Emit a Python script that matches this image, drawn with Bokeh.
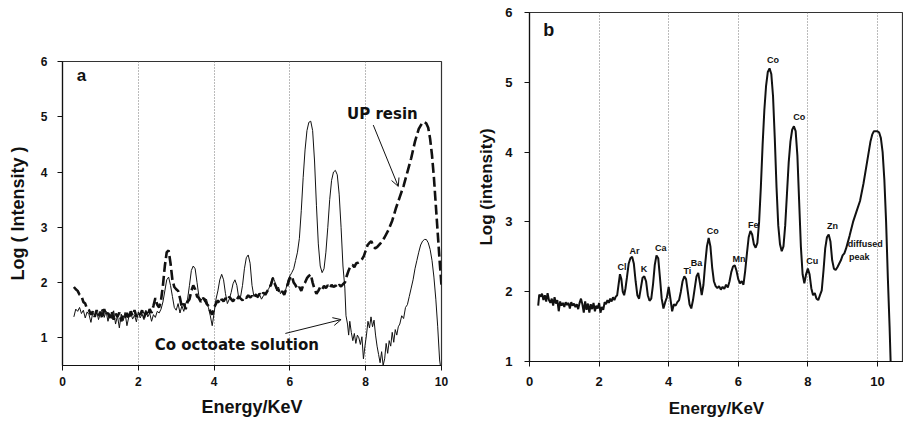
from bokeh.plotting import figure
from bokeh.layouts import row, column
from bokeh.models import FixedTicker, Label, Arrow, OpenHead, Range1d, ColumnDataSource
from bokeh.embed import file_html
from bokeh.resources import INLINE

# ---------------- data ----------------
# Panel a: Co octoate solution (thin solid line)
CO_OCT = [
    (0.30, 1.38), (0.35, 1.52), (0.40, 1.48), (0.45, 1.55), (0.50, 1.44), (0.55, 1.50),
    (0.60, 1.36), (0.65, 1.47), (0.70, 1.42), (0.75, 1.28), (0.80, 1.46), (0.85, 1.39),
    (0.90, 1.50), (0.95, 1.33), (1.00, 1.45), (1.05, 1.52), (1.10, 1.37), (1.15, 1.48),
    (1.20, 1.30), (1.25, 1.44), (1.30, 1.35), (1.35, 1.49), (1.40, 1.25), (1.45, 1.40),
    (1.50, 1.18), (1.55, 1.43), (1.60, 1.31), (1.65, 1.46), (1.70, 1.22), (1.75, 1.38),
    (1.80, 1.45), (1.85, 1.34), (1.90, 1.41), (1.95, 1.29), (2.00, 1.47), (2.05, 1.36),
    (2.10, 1.43), (2.15, 1.33), (2.20, 1.50), (2.25, 1.38), (2.30, 1.45), (2.35, 1.30),
    (2.40, 1.42), (2.45, 1.37), (2.50, 1.48), (2.55, 1.45), (2.60, 1.52), (2.65, 1.65),
    (2.70, 1.85), (2.75, 2.05), (2.80, 2.10), (2.85, 1.95), (2.90, 1.75), (2.95, 1.55),
    (3.00, 1.50), (3.05, 1.62), (3.10, 1.45), (3.15, 1.58), (3.20, 1.48), (3.25, 1.62),
    (3.30, 1.70), (3.35, 1.95), (3.40, 2.22), (3.45, 2.30), (3.50, 2.25), (3.55, 2.00),
    (3.60, 1.75), (3.65, 1.68), (3.70, 1.72), (3.75, 1.65), (3.80, 1.70), (3.85, 1.55),
    (3.90, 1.40), (3.95, 1.22), (4.00, 1.45), (4.05, 1.70), (4.10, 1.85), (4.15, 2.05),
    (4.20, 2.15), (4.25, 2.05), (4.30, 1.80), (4.35, 1.62), (4.40, 1.70), (4.45, 1.82),
    (4.50, 1.98), (4.55, 2.05), (4.60, 1.95), (4.65, 1.72), (4.70, 1.75), (4.75, 1.95),
    (4.80, 2.25), (4.85, 2.45), (4.90, 2.50), (4.95, 2.35), (5.00, 1.95), (5.05, 1.75),
    (5.10, 1.80), (5.15, 1.72), (5.20, 1.78), (5.25, 1.70), (5.30, 1.76), (5.35, 1.80),
    (5.40, 1.85), (5.45, 1.90), (5.50, 2.00), (5.55, 2.10), (5.60, 2.02), (5.65, 1.85),
    (5.70, 1.92), (5.75, 1.80), (5.80, 1.85), (5.85, 1.78), (5.90, 1.90), (5.95, 2.05),
    (6.00, 2.12), (6.05, 2.18), (6.10, 2.25), (6.15, 2.40), (6.20, 2.55), (6.25, 2.80),
    (6.30, 3.30), (6.35, 3.90), (6.40, 4.40), (6.45, 4.75), (6.50, 4.90), (6.55, 4.92),
    (6.60, 4.75), (6.65, 4.20), (6.70, 3.40), (6.75, 2.70), (6.80, 2.30), (6.85, 2.18),
    (6.90, 2.25), (6.95, 2.55), (7.00, 3.00), (7.05, 3.50), (7.10, 3.85), (7.15, 4.00),
    (7.20, 4.03), (7.25, 3.95), (7.30, 3.60), (7.35, 3.00), (7.40, 2.30), (7.45, 1.90),
    (7.48, 1.40), (7.52, 1.25), (7.55, 1.05), (7.58, 1.30), (7.62, 1.10), (7.66, 0.95),
    (7.70, 1.08), (7.74, 0.90), (7.78, 1.05), (7.82, 1.00), (7.86, 0.88), (7.90, 1.02),
    (7.94, 0.62), (7.98, 0.85), (8.02, 1.05), (8.06, 1.30), (8.10, 1.18), (8.14, 1.38),
    (8.18, 1.20), (8.22, 1.32), (8.26, 1.05), (8.30, 0.85), (8.34, 0.70), (8.38, 0.55),
    (8.42, 0.75), (8.46, 0.50), (8.50, 0.62), (8.54, 0.90), (8.58, 0.72), (8.62, 0.95),
    (8.66, 0.85), (8.70, 1.10), (8.74, 0.92), (8.78, 1.15), (8.82, 1.05), (8.86, 1.20),
    (8.90, 1.25), (8.95, 1.40), (9.00, 1.35), (9.05, 1.55), (9.10, 1.60), (9.15, 1.75),
    (9.20, 1.90), (9.25, 2.05), (9.30, 2.25), (9.35, 2.40), (9.40, 2.55), (9.45, 2.68),
    (9.50, 2.75), (9.55, 2.78), (9.60, 2.78), (9.65, 2.72), (9.70, 2.60), (9.75, 2.40),
    (9.80, 2.10), (9.85, 1.70), (9.90, 1.20), (9.95, 0.60), (9.97, 0.50),
]

# Panel a: UP resin (thick dashed line)
UP_RESIN = [
    (0.30, 1.92), (0.35, 1.88), (0.40, 1.85), (0.45, 1.78), (0.50, 1.76), (0.55, 1.65),
    (0.60, 1.62), (0.65, 1.52), (0.70, 1.50), (0.75, 1.42), (0.80, 1.48), (0.85, 1.38),
    (0.90, 1.50), (0.95, 1.40), (1.00, 1.47), (1.05, 1.35), (1.10, 1.52), (1.15, 1.42),
    (1.20, 1.45), (1.25, 1.36), (1.30, 1.48), (1.35, 1.33), (1.40, 1.44), (1.45, 1.38),
    (1.50, 1.46), (1.55, 1.30), (1.60, 1.42), (1.65, 1.37), (1.70, 1.45), (1.75, 1.34),
    (1.80, 1.48), (1.85, 1.40), (1.90, 1.50), (1.95, 1.38), (2.00, 1.45), (2.05, 1.42),
    (2.10, 1.50), (2.15, 1.36), (2.20, 1.47), (2.25, 1.40), (2.30, 1.52), (2.35, 1.45),
    (2.40, 1.58), (2.45, 1.72), (2.50, 1.60), (2.55, 1.55), (2.60, 1.68), (2.65, 1.95),
    (2.70, 2.30), (2.75, 2.55), (2.80, 2.58), (2.85, 2.35), (2.90, 2.05), (2.95, 1.92),
    (3.00, 1.88), (3.05, 1.85), (3.10, 1.72), (3.15, 1.55), (3.20, 1.62), (3.25, 1.52),
    (3.30, 1.65), (3.35, 1.70), (3.40, 1.85), (3.45, 1.95), (3.50, 1.88), (3.55, 1.75),
    (3.60, 1.72), (3.65, 1.65), (3.70, 1.72), (3.75, 1.70), (3.80, 1.62), (3.85, 1.58),
    (3.90, 1.48), (3.95, 1.42), (4.00, 1.55), (4.05, 1.62), (4.10, 1.68), (4.15, 1.62),
    (4.20, 1.70), (4.25, 1.66), (4.30, 1.72), (4.35, 1.68), (4.40, 1.74), (4.45, 1.70),
    (4.50, 1.66), (4.55, 1.72), (4.60, 1.69), (4.65, 1.75), (4.70, 1.71), (4.75, 1.68),
    (4.80, 1.74), (4.85, 1.72), (4.90, 1.77), (4.95, 1.73), (5.00, 1.76), (5.05, 1.72),
    (5.10, 1.78), (5.15, 1.74), (5.20, 1.80), (5.25, 1.76), (5.30, 1.82), (5.35, 1.78),
    (5.40, 1.84), (5.45, 1.90), (5.50, 1.96), (5.55, 2.08), (5.60, 1.98), (5.65, 1.90),
    (5.70, 1.86), (5.75, 1.80), (5.80, 1.84), (5.85, 1.78), (5.90, 1.88), (5.95, 1.98),
    (6.00, 2.08), (6.05, 2.12), (6.10, 2.00), (6.15, 1.95), (6.20, 1.88), (6.25, 1.92),
    (6.30, 1.85), (6.35, 1.95), (6.40, 2.00), (6.45, 2.08), (6.50, 2.12), (6.55, 2.15),
    (6.60, 2.00), (6.65, 1.88), (6.70, 1.80), (6.75, 1.85), (6.80, 1.92), (6.85, 1.88),
    (6.90, 1.94), (6.95, 1.90), (7.00, 1.95), (7.05, 1.90), (7.10, 1.96), (7.15, 1.92),
    (7.20, 1.95), (7.25, 1.91), (7.30, 1.96), (7.35, 1.93), (7.40, 1.97), (7.45, 2.00),
    (7.50, 2.12), (7.55, 2.22), (7.60, 2.30), (7.65, 2.32), (7.70, 2.28), (7.75, 2.35),
    (7.80, 2.36), (7.85, 2.38), (7.90, 2.42), (7.95, 2.48), (8.00, 2.58), (8.05, 2.68),
    (8.10, 2.72), (8.15, 2.75), (8.20, 2.66), (8.25, 2.62), (8.30, 2.64), (8.40, 2.72),
    (8.50, 2.82), (8.60, 2.95), (8.70, 3.12), (8.80, 3.35), (8.90, 3.55), (9.00, 3.75),
    (9.10, 4.00), (9.20, 4.25), (9.30, 4.55), (9.40, 4.78), (9.50, 4.90), (9.55, 4.90),
    (9.60, 4.88), (9.65, 4.80), (9.70, 4.60), (9.75, 4.30), (9.80, 3.90), (9.85, 3.40),
    (9.90, 2.90), (9.95, 2.40), (10.00, 1.95),
]

# Panel b: spectrum
SPEC_B = [
    (0.25, 1.80), (0.28, 1.96), (0.32, 1.93), (0.36, 1.97), (0.40, 1.88), (0.44, 1.95),
    (0.48, 1.86), (0.52, 1.98), (0.56, 1.88), (0.60, 1.84), (0.64, 1.90), (0.68, 1.80),
    (0.72, 1.92), (0.76, 1.83), (0.80, 1.88), (0.84, 1.72), (0.88, 1.86), (0.92, 1.80),
    (0.96, 1.84), (1.00, 1.78), (1.04, 1.85), (1.08, 1.81), (1.12, 1.84), (1.16, 1.76),
    (1.20, 1.85), (1.24, 1.80), (1.28, 1.83), (1.32, 1.78), (1.36, 1.82), (1.40, 1.75),
    (1.44, 1.84), (1.48, 1.90), (1.52, 1.82), (1.56, 1.70), (1.60, 1.86), (1.64, 1.74),
    (1.68, 1.83), (1.72, 1.70), (1.76, 1.82), (1.80, 1.75), (1.84, 1.84), (1.88, 1.72),
    (1.92, 1.80), (1.96, 1.76), (2.00, 1.84), (2.04, 1.70), (2.08, 1.78), (2.12, 1.74),
    (2.16, 1.85), (2.20, 1.82), (2.24, 1.88), (2.28, 1.84), (2.32, 1.90), (2.36, 1.86),
    (2.40, 1.92), (2.44, 1.88), (2.48, 1.93), (2.52, 1.95), (2.56, 2.10), (2.60, 2.25),
    (2.64, 2.18), (2.68, 2.00), (2.72, 1.95), (2.76, 2.05), (2.80, 2.20), (2.85, 2.40),
    (2.90, 2.48), (2.95, 2.50), (3.00, 2.40), (3.05, 2.15), (3.10, 1.95), (3.15, 1.90),
    (3.20, 2.05), (3.25, 2.20), (3.30, 2.22), (3.35, 2.15), (3.40, 1.95), (3.45, 1.87),
    (3.50, 1.90), (3.55, 2.10), (3.60, 2.38), (3.65, 2.52), (3.70, 2.48), (3.75, 2.20),
    (3.80, 1.90), (3.85, 1.76), (3.90, 1.85), (3.95, 1.92), (4.00, 2.07), (4.05, 1.90),
    (4.10, 1.72), (4.15, 1.82), (4.20, 1.80), (4.25, 1.85), (4.30, 1.88), (4.35, 2.00),
    (4.40, 2.15), (4.45, 2.22), (4.50, 2.18), (4.55, 2.00), (4.60, 1.82), (4.65, 1.76),
    (4.70, 1.88), (4.75, 2.05), (4.80, 2.22), (4.85, 2.27), (4.90, 2.12), (4.95, 1.95),
    (5.00, 2.10), (5.05, 2.40), (5.10, 2.65), (5.15, 2.77), (5.20, 2.65), (5.25, 2.35),
    (5.30, 2.15), (5.35, 2.08), (5.40, 2.05), (5.45, 2.08), (5.50, 2.03), (5.55, 2.07),
    (5.60, 2.04), (5.65, 2.10), (5.70, 2.06), (5.75, 2.15), (5.80, 2.28), (5.85, 2.36),
    (5.90, 2.38), (5.95, 2.30), (6.00, 2.18), (6.05, 2.12), (6.10, 2.15), (6.15, 2.10),
    (6.20, 2.30), (6.25, 2.55), (6.30, 2.78), (6.35, 2.87), (6.40, 2.82), (6.45, 2.68),
    (6.50, 2.63), (6.55, 2.70), (6.60, 3.00), (6.65, 3.50), (6.70, 4.10), (6.75, 4.60),
    (6.80, 4.95), (6.85, 5.15), (6.90, 5.20), (6.95, 5.12), (7.00, 4.80), (7.05, 4.20),
    (7.10, 3.50), (7.15, 2.95), (7.20, 2.68), (7.25, 2.58), (7.30, 2.65), (7.35, 2.95),
    (7.40, 3.40), (7.45, 3.85), (7.50, 4.15), (7.55, 4.32), (7.60, 4.37), (7.65, 4.30),
    (7.70, 3.95), (7.75, 3.30), (7.80, 2.65), (7.85, 2.25), (7.90, 2.12), (7.95, 2.25),
    (8.00, 2.33), (8.05, 2.25), (8.10, 2.05), (8.15, 1.95), (8.20, 1.98), (8.25, 1.90),
    (8.30, 1.88), (8.35, 1.95), (8.40, 2.02), (8.45, 2.30), (8.50, 2.62), (8.55, 2.78),
    (8.60, 2.82), (8.65, 2.72), (8.70, 2.45), (8.75, 2.33), (8.80, 2.31), (8.85, 2.35),
    (8.90, 2.40), (8.95, 2.45), (9.00, 2.52), (9.05, 2.55), (9.10, 2.62), (9.20, 2.80),
    (9.30, 3.00), (9.40, 3.15), (9.50, 3.30), (9.60, 3.55), (9.70, 3.85), (9.80, 4.15),
    (9.85, 4.25), (9.90, 4.30), (10.00, 4.30), (10.05, 4.28), (10.10, 4.20), (10.15, 4.00),
    (10.20, 3.60), (10.25, 3.00), (10.30, 2.20), (10.35, 1.50), (10.38, 1.00),
]

# Peak labels in panel b
PEAK_TEXT = ["Cl", "Ar", "K", "Ca", "Ti", "Ba", "Co", "Mn", "Fe", "Co", "Co", "Cu", "Zn", "diffused", "peak"]
PEAK_X = [2.66, 3.02, 3.29, 3.77, 4.54, 4.80, 5.27, 6.02, 6.43, 7.00, 7.75, 8.13, 8.71, 9.65, 9.48]
PEAK_Y = [2.35, 2.58, 2.32, 2.62, 2.30, 2.41, 2.87, 2.47, 2.96, 5.32, 4.50, 2.44, 2.94, 2.69, 2.49]

X_TICKS = [0, 2, 4, 6, 8, 10]
Y_TICKS = [1, 2, 3, 4, 5, 6]
X_LABEL = "Energy/KeV"
Y_LABEL_A = "Log ( Intensity )"
Y_LABEL_B = "Log (intensity)"

SANS = "Liberation Sans"
BOLDW = "DejaVu Sans"
INK = "#111111"


def style(p, label_size, tick_size, xstand, ystand):
    p.outline_line_color = "#333333"
    p.outline_line_width = 1.2
    p.background_fill_color = "white"
    p.border_fill_color = "white"
    p.ygrid.visible = False
    p.xgrid.ticker = FixedTicker(ticks=X_TICKS)
    p.xgrid.grid_line_color = "#777777"
    p.xgrid.grid_line_dash = "1 2"
    p.xgrid.grid_line_width = 1
    p.xaxis.ticker = FixedTicker(ticks=X_TICKS)
    p.yaxis.ticker = FixedTicker(ticks=Y_TICKS)
    for ax in (p.xaxis[0], p.yaxis[0]):
        ax.axis_line_color = INK
        ax.axis_line_width = 1.2
        ax.major_tick_line_color = INK
        ax.major_tick_out = 5
        ax.major_tick_in = 0
        ax.minor_tick_line_color = None
        ax.major_label_text_font = SANS
        ax.major_label_text_font_style = "bold"
        ax.major_label_text_font_size = tick_size
        ax.major_label_text_color = INK
        ax.axis_label_text_font = SANS
        ax.axis_label_text_font_style = "bold"
        ax.axis_label_text_font_size = label_size
        ax.axis_label_text_color = INK
    p.xaxis.major_label_standoff = xstand
    p.yaxis.major_label_standoff = ystand


# ---------------- panel a ----------------
pa = figure(width=460, height=421, output_backend="svg", toolbar_location=None,
            x_range=Range1d(0, 10), y_range=Range1d(0.5, 6),
            min_border_left=62, min_border_right=19, min_border_top=61, min_border_bottom=56)
style(pa, "18px", "12px", 6, 10)
pa.xaxis.axis_label = X_LABEL
pa.xaxis.axis_label_standoff = 8
pa.yaxis.axis_label = Y_LABEL_A
pa.yaxis.axis_label_standoff = 10

co_src = ColumnDataSource(dict(e=[p[0] for p in CO_OCT], v=[p[1] for p in CO_OCT]))
up_src = ColumnDataSource(dict(e=[p[0] for p in UP_RESIN], v=[p[1] for p in UP_RESIN]))
pa.line("e", "v", source=up_src, line_color=INK, line_width=2.6, line_dash="10 4")
pa.line("e", "v", source=co_src, line_color=INK, line_width=1.0)

pa.add_layout(Label(x=0.5, y=5.75, text="a", text_align="center", text_baseline="middle",
                    text_font=SANS, text_font_style="bold", text_font_size="17px", text_color=INK))
pa.add_layout(Label(x=8.44, y=5.05, text="UP resin", text_align="center", text_baseline="middle",
                    text_font=BOLDW, text_font_style="bold", text_font_size="15px", text_color=INK))
pa.add_layout(Label(x=4.6, y=0.87, text="Co octoate solution", text_align="center",
                    text_baseline="middle", text_font=BOLDW, text_font_style="bold",
                    text_font_size="15px", text_color=INK))
pa.add_layout(Arrow(x_start=8.2, y_start=4.85, x_end=8.86, y_end=3.74, line_width=1,
                    line_color=INK, end=OpenHead(size=8, line_width=1, line_color=INK)))
pa.add_layout(Arrow(x_start=5.88, y_start=1.08, x_end=7.35, y_end=1.33, line_width=1,
                    line_color=INK, end=OpenHead(size=8, line_width=1, line_color=INK)))

# ---------------- panel b ----------------
pb = figure(width=443, height=421, output_backend="svg", toolbar_location=None,
            x_range=Range1d(0, 10.75), y_range=Range1d(1, 6),
            min_border_left=69, min_border_right=0, min_border_top=12, min_border_bottom=60)
style(pb, "17px", "13px", 10, 12)
pb.xaxis.axis_label = X_LABEL
pb.xaxis.axis_label_standoff = 10
pb.yaxis.axis_label = Y_LABEL_B
pb.yaxis.axis_label_standoff = 6

b_src = ColumnDataSource(dict(e=[p[0] for p in SPEC_B], v=[p[1] for p in SPEC_B]))
pb.line("e", "v", source=b_src, line_color=INK, line_width=2.0)
lab_src = ColumnDataSource(dict(x=PEAK_X, y=PEAK_Y, t=PEAK_TEXT))
pb.text("x", "y", text="t", source=lab_src, text_align="center", text_baseline="middle",
        text_font={"value": SANS}, text_font_style="bold", text_font_size="9px", text_color=INK)
pb.add_layout(Label(x=0.55, y=5.75, text="b", text_align="center", text_baseline="middle",
                    text_font=SANS, text_font_style="bold", text_font_size="18px", text_color=INK))

layout = row(column(pa), column(pb))
open("out.html", "w").write(file_html(layout, INLINE))
